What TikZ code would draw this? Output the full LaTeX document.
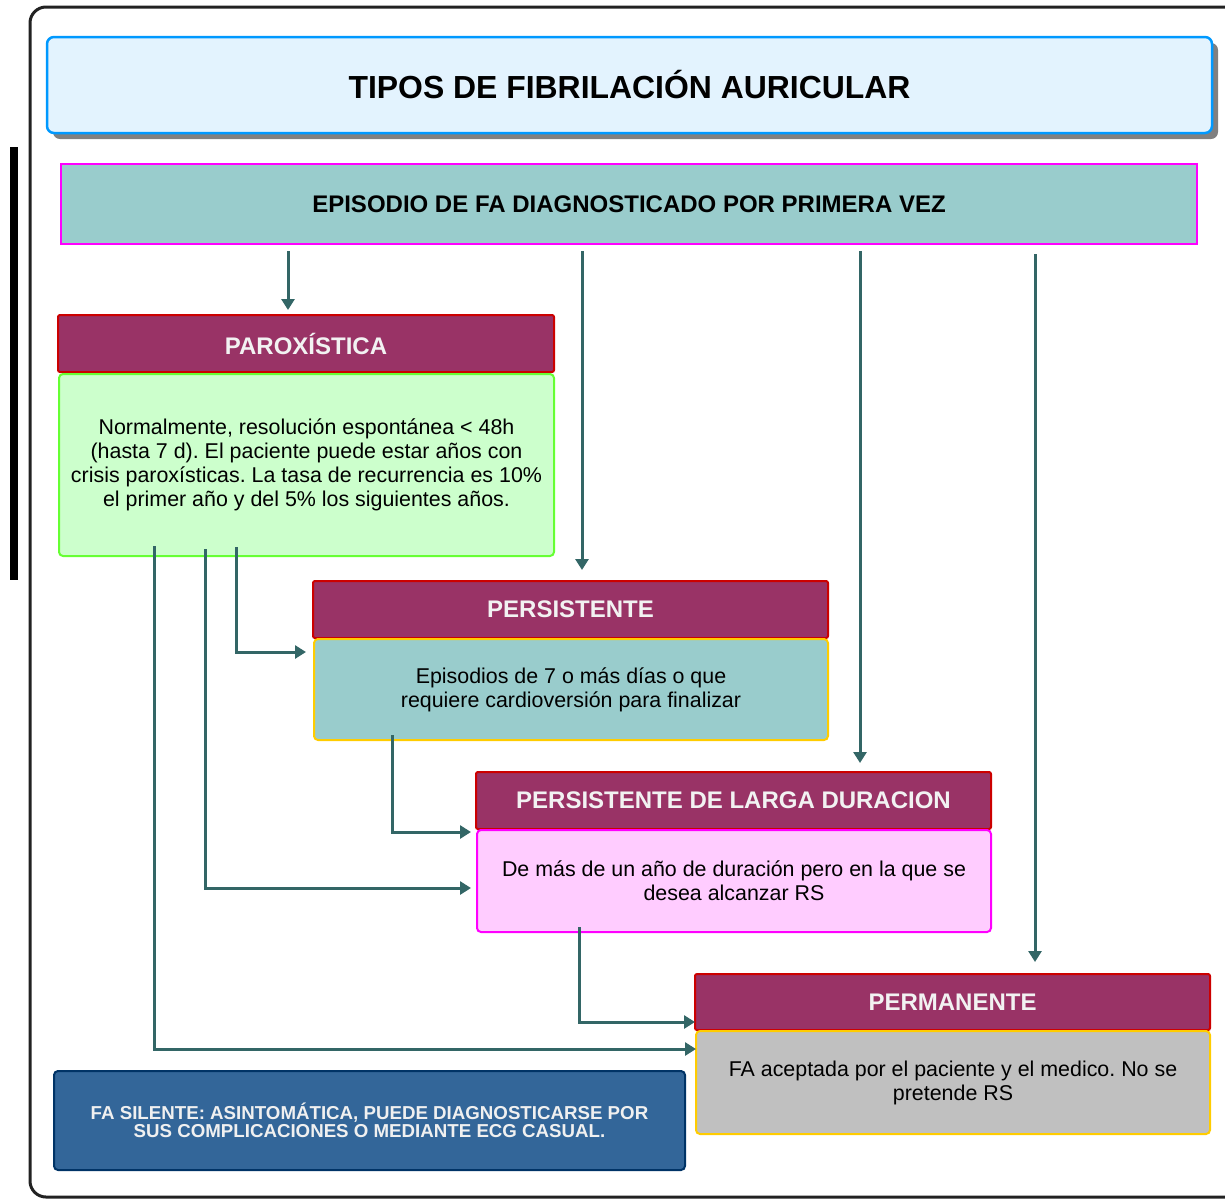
\documentclass[tikz,border=0pt]{standalone}
\usepackage{fontspec}
\setmainfont{Liberation Sans}
\frenchspacing
\usetikzlibrary{arrows.meta,shadows}
\definecolor{framec}{HTML}{222222}
\definecolor{titleb}{HTML}{0099FF}
\definecolor{titlef}{HTML}{E3F3FE}
\definecolor{shadowc}{HTML}{808080}
\definecolor{epif}{HTML}{99CCCC}
\definecolor{magb}{HTML}{FF00FF}
\definecolor{headf}{HTML}{993366}
\definecolor{headb}{HTML}{CC0000}
\definecolor{headt}{HTML}{F2F2F2}
\definecolor{paroxf}{HTML}{CCFFCC}
\definecolor{paroxb}{HTML}{66FF33}
\definecolor{yelb}{HTML}{FFCC00}
\definecolor{largaf}{HTML}{FFCCFF}
\definecolor{permf}{HTML}{C0C0C0}
\definecolor{silf}{HTML}{336699}
\definecolor{silb}{HTML}{003366}
\definecolor{silt}{HTML}{F0F0F0}
\definecolor{arrc}{HTML}{336666}
\tikzset{
  box/.style={draw, line width=2pt, inner sep=0pt, outer sep=0pt, align=center},
  headbox/.style={box, fill=headf, draw=headb, rounded corners=2pt, text=headt,
    font=\fontsize{24}{28}\selectfont\bfseries},
  bodybox/.style={box, rounded corners=4pt, font=\fontsize{21.4}{24}\selectfont},
  arr/.style={draw=arrc, line width=3pt, -{Triangle[length=11pt,width=13pt]}},
}
\begin{document}
\begin{tikzpicture}[x=1pt,y=-1pt]
\useasboundingbox (0,0) rectangle (1225,1200);
% outer frame
\draw[framec, line width=3pt, rounded corners=16pt] (1260,7) -- (30,7) -- (30,1197) -- (1260,1197);
% black bar
\fill[black] (10,147) rectangle (18,580);
% title
\node[box, draw=titleb, fill=titlef, rounded corners=7pt, line width=2.5pt,
  minimum width=1165pt, minimum height=96pt,
  drop shadow={shadow xshift=6pt, shadow yshift=-6pt, fill=shadowc, opacity=1},
  font=\fontsize{31.9}{36}\selectfont\bfseries] (title) at (629.5,85) {TIPOS DE FIBRILACIÓN AURICULAR};
% episodio
\node[box, draw=magb, fill=epif, minimum width=1136pt, minimum height=80pt,
  font=\fontsize{24}{28}\selectfont\bfseries] (epi) at (629,204) {EPISODIO DE FA DIAGNOSTICADO POR PRIMERA VEZ};
% paroxistica
\node[headbox, minimum width=496pt, minimum height=57pt] (parox) at (306,343.5) {PAROXÍSTICA};
\node[bodybox, draw=paroxb, fill=paroxf, minimum width=495pt, minimum height=182pt] (paroxbody) at (306.5,465)
  {Normalmente, resolución espontánea < 48h\\(hasta 7 d). El paciente puede estar años con\\crisis paroxísticas. La tasa de recurrencia es 10\%\\el primer año y del 5\% los siguientes años.};
% persistente
\node[headbox, minimum width=515pt, minimum height=57pt] (pers) at (570.5,609.5) {PERSISTENTE};
\node[bodybox, draw=yelb, fill=epif, minimum width=514pt, minimum height=101pt] (persbody) at (571,689.5)
  {Episodios de 7 o más días o que\\requiere cardioversión para finalizar};
% larga duracion
\node[headbox, minimum width=515pt, minimum height=57pt] (larga) at (733.5,800.5) {PERSISTENTE DE LARGA DURACION};
\node[bodybox, draw=magb, fill=largaf, minimum width=514pt, minimum height=102pt] (largabody) at (734,881)
  {De más de un año de duración pero en la que se\\desea alcanzar RS};
% permanente
\node[headbox, minimum width=515pt, minimum height=56pt] (perm) at (952.5,1002) {PERMANENTE};
\node[bodybox, draw=yelb, fill=permf, minimum width=514pt, minimum height=103pt] (permbody) at (953,1082.5)
  {FA aceptada por el paciente y el medico. No se\\pretende RS};
% silent
\node[box, draw=silb, fill=silf, text=silt, rounded corners=4pt, minimum width=631pt, minimum height=99pt,
  font=\fontsize{18.7}{18}\selectfont\bfseries] (silent) at (369.5,1120.5)
  {FA SILENTE: ASINTOMÁTICA, PUEDE DIAGNOSTICARSE POR\\SUS COMPLICACIONES O MEDIANTE ECG CASUAL.};
% connectors from episodio
\draw[arr] ([xshift=-341pt,yshift=-7pt]epi.south) -- ([xshift=-18pt,yshift=5pt]parox.north);
\draw[arr] ([xshift=-47pt,yshift=-7pt]epi.south) -- ([xshift=11.5pt,yshift=11pt]pers.north);
\draw[arr] ([xshift=231pt,yshift=-7pt]epi.south) -- ([xshift=126.5pt,yshift=9pt]larga.north);
\draw[arr] ([xshift=406pt,yshift=-10pt]epi.south) -- ([xshift=82.5pt,yshift=12pt]perm.north);
% connectors from paroxistica
\draw[arr] ([xshift=177pt,yshift=9pt]paroxbody.south west) |- ([xshift=-8pt,yshift=-13pt]persbody.north west);
\draw[arr] ([xshift=146pt,yshift=7pt]paroxbody.south west) |- ([xshift=-6pt,yshift=-58pt]largabody.north west);
\draw[arr] ([xshift=95pt,yshift=10pt]paroxbody.south west) |- ([xshift=0pt,yshift=-18pt]permbody.north west);
% from persistente
\draw[arr] ([xshift=78pt,yshift=5pt]persbody.south west) |- ([xshift=-6pt,yshift=-2pt]largabody.north west);
% from larga
\draw[arr] ([xshift=102pt,yshift=5pt]largabody.south west) |- ([xshift=0pt,yshift=8pt]perm.south west);
\end{tikzpicture}
\end{document}
